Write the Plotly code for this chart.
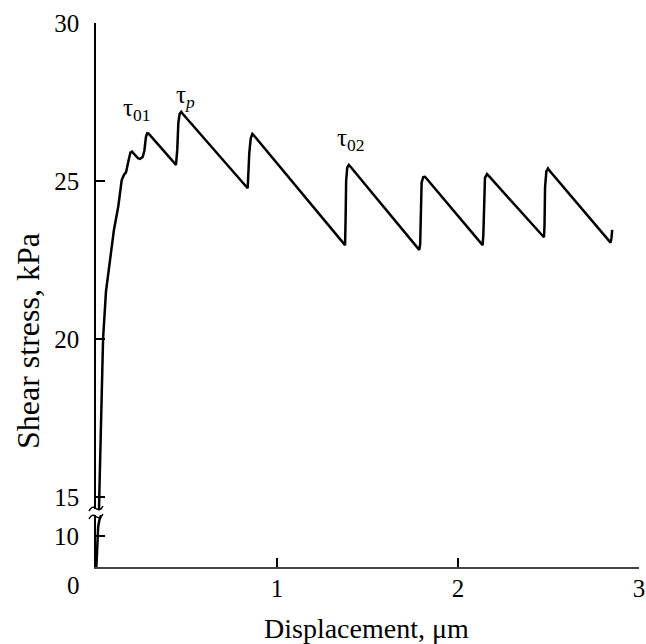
import plotly.graph_objects as go

# ---- data ----
displacement_um = [
    0.002, 0.006, 0.012, 0.018, 0.028, 0.039, 0.055, 0.077, 0.099, 0.123,
    0.142, 0.155, 0.166, 0.178, 0.190, 0.199, 0.215, 0.232, 0.243, 0.258,
    0.267, 0.276, 0.283, 0.291, 0.442, 0.449, 0.455, 0.462, 0.471, 0.480,
    0.838, 0.842, 0.847, 0.855, 0.864, 0.874, 1.376, 1.379, 1.382, 1.388,
    1.397, 1.405, 1.780, 1.786, 1.791, 1.794, 1.799, 1.808, 1.818, 1.826,
    2.136, 2.140, 2.143, 2.149, 2.160, 2.170, 2.475, 2.478, 2.481, 2.488,
    2.497, 2.505, 2.843, 2.848, 2.852,
]
shear_stress_kpa = [
    0.0, 8.0, 13.0, 15.0, 17.5, 20.0, 21.5, 22.5, 23.45, 24.19,
    25.03, 25.2, 25.28, 25.6, 25.9, 25.93, 25.82, 25.72, 25.70, 25.76,
    25.95, 26.4, 26.51, 26.50, 25.51, 26.0, 26.85, 27.12, 27.19, 27.12,
    24.77, 25.3, 25.9, 26.35, 26.49, 26.43, 22.97, 23.8, 25.0, 25.42,
    25.51, 25.46, 22.85, 22.82, 23.0, 24.0, 24.95, 25.12, 25.13, 25.08,
    22.97, 23.3, 24.4, 25.1, 25.22, 25.16, 23.22, 23.6, 24.8, 25.3,
    25.40, 25.33, 23.05, 23.2, 23.45,
]
x_tickvals = [1, 2, 3]
upper_tickvals = [15, 20, 25, 30]
lower_tickvals = [10]
labels = ["τ<sub>01</sub>", "τ<sub><i>p</i></sub>", "τ<sub>02</sub>"]
label_x = [0.229, 0.497, 1.408]
label_y = [27.25, 27.66, 26.3]

FONT = "Liberation Serif"
W, H = 646, 644
# plot area in page pixels: left 96, right 639, top 23, bottom 567
PL, PR, PT, PB = 96, 639, 23, 567
L, T = PL, PT
R, B = W - PR, H - PB
PW, PH = PR - PL, PB - PT


def px(xp):
    return (xp - PL) / PW


def py(yp):
    return (PB - yp) / PH


fig = go.Figure()
line = dict(color="black", width=2.5)
fig.add_trace(go.Scatter(x=displacement_um, y=shear_stress_kpa, mode="lines",
                         line=line, xaxis="x", yaxis="y", showlegend=False))
fig.add_trace(go.Scatter(x=displacement_um, y=shear_stress_kpa, mode="lines",
                         line=line, xaxis="x", yaxis="y2", showlegend=False))

for t, xv, yv in zip(labels, label_x, label_y):
    fig.add_annotation(x=xv, y=yv, xref="x", yref="y", text=t, showarrow=False,
                       xanchor="center", yanchor="middle",
                       font=dict(family=FONT, size=25, color="black"))

# origin label and axis titles
fig.add_annotation(x=px(73), y=py(585), xref="paper", yref="paper", text="0",
                   showarrow=False, xanchor="center", yanchor="middle",
                   font=dict(family=FONT, size=25, color="black"))
fig.add_annotation(x=px(366), y=py(628), xref="paper", yref="paper",
                   text="Displacement, μm", showarrow=False,
                   xanchor="center", yanchor="middle",
                   font=dict(family=FONT, size=28, color="black"))
fig.add_annotation(x=px(28), y=py(341), xref="paper", yref="paper",
                   text="Shear stress, kPa", textangle=-90, showarrow=False,
                   xanchor="center", yanchor="middle",
                   font=dict(family=FONT, size=32, color="black"))


# axis break marks
def tilde(y0):
    pts = [(89, y0 + 3), (92, y0 - 3), (96, y0 + 0.5), (103, y0 - 2)]
    p = [(px(a), py(b)) for a, b in pts]
    return (f"M {p[0][0]},{p[0][1]} Q {p[1][0]},{p[1][1]} {p[2][0]},{p[2][1]} "
            f"T {p[3][0]},{p[3][1]}")


for y0 in (508, 516):
    fig.add_shape(type="path", xref="paper", yref="paper", path=tilde(y0),
                  line=dict(color="black", width=1.5))

tickfont = dict(family=FONT, size=25, color="black")
fig.update_layout(
    width=W, height=H,
    margin=dict(l=L, r=R, t=T, b=B, pad=0, autoexpand=False),
    plot_bgcolor="white", paper_bgcolor="white",
    xaxis=dict(domain=[0, 1], range=[0, 3], anchor="y2", showline=True,
               linecolor="#444", linewidth=2, ticks="inside", ticklen=9,
               tickwidth=2, tickcolor="black", tickvals=x_tickvals,
               showgrid=False, zeroline=False, tickfont=tickfont,
               ticklabelstandoff=-2, ticklabeloverflow="allow"),
    yaxis=dict(domain=[py(509), 1], range=[30 - (509 - 23) / 31.6, 30],
               anchor="x", showline=True, linecolor="black", linewidth=1.5,
               ticks="inside", ticklen=9, tickwidth=2, tickcolor="black",
               tickvals=upper_tickvals, showgrid=False, zeroline=False,
               tickfont=tickfont, ticklabelstandoff=10),
    yaxis2=dict(domain=[0, py(515)], range=[0, (567 - 515) / 3.1],
                anchor="x", showline=True, linecolor="black", linewidth=2,
                ticks="inside", ticklen=9, tickwidth=2, tickcolor="black",
                tickvals=lower_tickvals, showgrid=False, zeroline=False,
                tickfont=tickfont, ticklabelstandoff=10),
)

fig.write_html(
    "out.html",
    config={"displayModeBar": False},
    post_script="document.body.style.margin='0';document.body.style.overflow='hidden';",
)
